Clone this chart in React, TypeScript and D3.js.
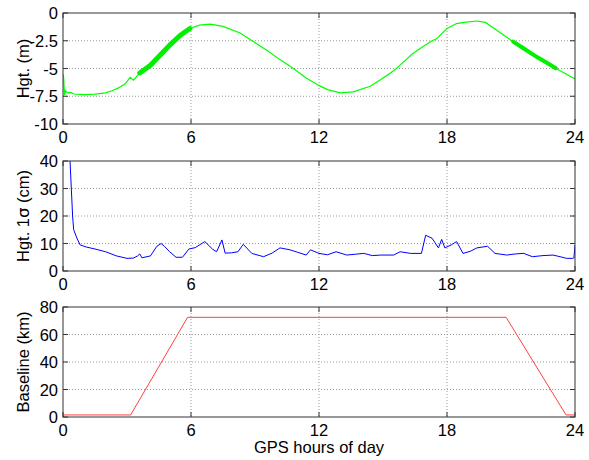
import * as d3 from 'd3'

// Panel 1: height (m)
const hgtHours = [
  0, 0.03, 0.07, 0.12, 0.2, 0.35, 0.5, 1.0, 1.5, 2.0, 2.3, 2.6, 2.9, 3.15, 3.3, 3.6, 4.1, 4.55,
  5.0, 5.5, 5.95, 6.4, 6.9, 7.5, 8.3, 8.9, 9.55, 10.17, 10.8, 11.4, 11.97, 12.4, 13.0, 13.6,
  14.4, 14.9, 15.5, 15.8, 16.4, 16.9, 17.3, 17.5, 18.0, 18.45, 18.8, 19.4, 19.8, 20.3, 21.1,
  21.6, 22.2, 22.6, 23.1, 23.5, 24.0,
]
const hgtValues = [
  -5.5, -5.8, -7.4, -7.0, -7.2, -7.15, -7.3, -7.35, -7.3, -7.2, -7.0, -6.75, -6.4, -5.8, -6.05,
  -5.4, -4.7, -3.8, -2.9, -2.0, -1.4, -1.1, -1.0, -1.2, -1.8, -2.55, -3.35, -4.2, -5.0, -5.85,
  -6.5, -6.9, -7.2, -7.1, -6.6, -6.0, -5.2, -4.7, -3.65, -3.0, -2.5, -2.35, -1.4, -0.95, -0.85,
  -0.72, -0.85, -1.5, -2.58, -3.2, -3.95, -4.4, -4.98, -5.4, -5.95,
]
// stretches where the height trace is visibly noisy (thick band) and how thick it looks
const noisyBands = [
  [3.6, 6.0],
  [21.1, 23.1],
]
const noisyWidths = [5, 4]

// Panel 2: height 1-sigma (cm)
const sigmaHours = [
  0.25, 0.33, 0.45, 0.5, 0.65, 0.8, 1.1, 1.5, 2.0, 2.5, 3.0, 3.3, 3.5, 3.6, 3.7, 4.1, 4.4, 4.6,
  4.75, 5.0, 5.3, 5.6, 5.9, 6.2, 6.65, 7.0, 7.2, 7.45, 7.6, 7.9, 8.2, 8.45, 8.85, 9.4, 9.8,
  10.17, 10.64, 11.0, 11.4, 11.6, 12.0, 12.4, 12.8, 13.3, 13.7, 14.1, 14.5, 14.9, 15.5, 15.8,
  16.3, 16.8, 17.0, 17.3, 17.6, 17.75, 17.9, 18.2, 18.45, 18.75, 19.1, 19.4, 19.9, 20.25, 20.8,
  21.2, 21.6, 22.0, 22.5, 22.97, 23.3, 23.6, 23.9, 23.95, 24.0,
]
const sigmaValues = [
  60, 40, 20, 15, 12, 9.5, 8.7, 8, 7, 5.5, 4.6, 4.7, 5.5, 6.2, 4.8, 5.5, 9, 10, 9, 7, 5, 5, 8,
  8.5, 10.7, 8, 7, 11.3, 6.5, 6.6, 7, 9.7, 6.4, 5.2, 6.5, 8.4, 7.7, 6.8, 5.8, 7.7, 6.4, 5.9, 7,
  5.8, 6.1, 6.4, 5.6, 5.8, 5.8, 7, 6.4, 6.4, 13, 11.9, 8.4, 11.5, 8.4, 9.5, 10.7, 6.4, 7.2, 8.4,
  9, 6.4, 5.8, 6.2, 6.4, 5.2, 5.6, 5.8, 5.2, 4.6, 4.6, 4.8, 9.4,
]

// Panel 3: baseline length (km)
const baseHours = [0, 3.17, 5.84, 20.77, 23.58, 24]
const baseValues = [1.5, 1.5, 72.5, 72.5, 1.5, 1.5]

const xTicks = [0, 6, 12, 18, 24]

const W = 589
const H = 460
const left = 63
const right = 575
const font = '"Liberation Sans", Arial, Helvetica, sans-serif'

const x = d3.scaleLinear().domain([0, 24]).range([left, right])

interface PanelProps {
  id: string
  top: number
  bottom: number
  domain: [number, number]
  ticks: number[]
  tickLabels: string[]
  label: React.ReactNode
  children: (y: d3.ScaleLinear<number, number>) => React.ReactNode
}

function Panel({ id, top, bottom, domain, ticks, tickLabels, label, children }: PanelProps) {
  const y = d3.scaleLinear().domain(domain).range([bottom, top])
  const tk = 5
  const axisColor = '#333'
  return (
    <g>
      <defs>
        <clipPath id={id}>
          <rect x={left} y={top} width={right - left} height={bottom - top} />
        </clipPath>
      </defs>
      {/* grid */}
      {xTicks.slice(1, -1).map((t) => (
        <line key={'gx' + t} x1={x(t)} x2={x(t)} y1={top} y2={bottom} stroke="#999" strokeDasharray="1,2" />
      ))}
      {ticks.slice(1, -1).map((t) => (
        <line key={'gy' + t} x1={left} x2={right} y1={y(t)} y2={y(t)} stroke="#999" strokeDasharray="1,2" />
      ))}
      <g clipPath={`url(#${id})`}>{children(y)}</g>
      {/* box + ticks inside */}
      <rect x={left} y={top} width={right - left} height={bottom - top} fill="none" stroke={axisColor} />
      {xTicks.map((t) => (
        <g key={'tx' + t}>
          <line x1={x(t)} x2={x(t)} y1={bottom} y2={bottom - tk} stroke={axisColor} />
          <line x1={x(t)} x2={x(t)} y1={top} y2={top + tk} stroke={axisColor} />
          <text x={x(t)} y={bottom + 19} textAnchor="middle" fontSize={16.5} fontFamily={font}>
            {t}
          </text>
        </g>
      ))}
      {ticks.map((t, i) => (
        <g key={'ty' + t}>
          <line x1={left} x2={left + tk} y1={y(t)} y2={y(t)} stroke={axisColor} />
          <line x1={right} x2={right - tk} y1={y(t)} y2={y(t)} stroke={axisColor} />
          <text x={left - 5} y={y(t) + 6} textAnchor="end" fontSize={16.5} fontFamily={font}>
            {tickLabels[i]}
          </text>
        </g>
      ))}
      <text
        transform={`translate(29,${(top + bottom) / 2}) rotate(-90)`}
        textAnchor="middle"
        fontSize={16.5}
        fontFamily={font}
      >
        {label}
      </text>
    </g>
  )
}

export default function App() {
  const pathOf = (hours: number[], vals: number[], y: d3.ScaleLinear<number, number>) =>
    d3
      .line<number>()
      .x((h) => x(h))
      .y((_, i) => y(vals[i]))(hours) || ''

  return (
    <svg width={W} height={H} style={{ position: 'absolute', left: 0, top: 0, background: '#fff' }}>
      <rect width={W} height={H} fill="#fff" />
      <Panel
        id="c1"
        top={13}
        bottom={124}
        domain={[-10, 0]}
        ticks={[-10, -7.5, -5, -2.5, 0]}
        tickLabels={['-10', '-7.5', '-5', '-2.5', '0']}
        label="Hgt. (m)"
      >
        {(y) => (
          <g>
            <path d={pathOf(hgtHours, hgtValues, y)} fill="none" stroke="#00ff00" strokeWidth={1.2} />
            {noisyBands.map(([a, b], k) => {
              const idx = hgtHours.map((_, i) => i).filter((i) => hgtHours[i] >= a && hgtHours[i] <= b)
              return (
                <path
                  key={a}
                  d={pathOf(idx.map((i) => hgtHours[i]), idx.map((i) => hgtValues[i]), y)}
                  fill="none"
                  stroke="#00f000"
                  strokeWidth={noisyWidths[k]}
                  strokeLinecap="round"
                  strokeLinejoin="round"
                />
              )
            })}
          </g>
        )}
      </Panel>
      <Panel
        id="c2"
        top={161}
        bottom={271}
        domain={[0, 40]}
        ticks={[0, 10, 20, 30, 40]}
        tickLabels={['0', '10', '20', '30', '40']}
        label={
          <>
            Hgt. 1<tspan fontFamily="'DejaVu Sans', sans-serif">σ</tspan> (cm)
          </>
        }
      >
        {(y) => <path d={pathOf(sigmaHours, sigmaValues, y)} fill="none" stroke="#0000ff" strokeWidth={1} />}
      </Panel>
      <Panel
        id="c3"
        top={307}
        bottom={417}
        domain={[0, 80]}
        ticks={[0, 20, 40, 60, 80]}
        tickLabels={['0', '20', '40', '60', '80']}
        label="Baseline (km)"
      >
        {(y) => <path d={pathOf(baseHours, baseValues, y)} fill="none" stroke="#ff4040" strokeWidth={1} />}
      </Panel>
      <text x={319} y={453} textAnchor="middle" fontSize={16.5} fontFamily={font}>
        GPS hours of day
      </text>
    </svg>
  )
}
